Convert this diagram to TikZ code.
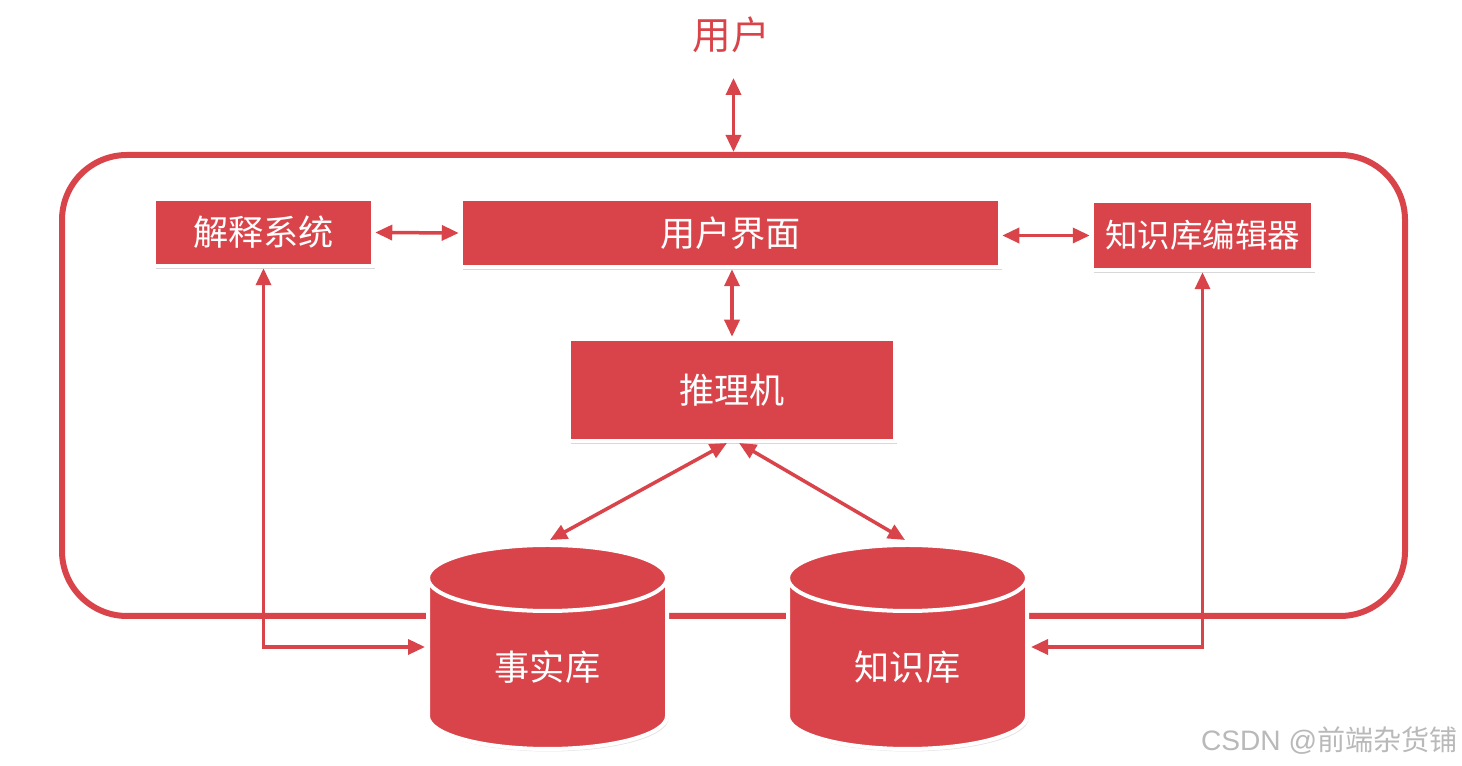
\documentclass[tikz,border=0pt]{standalone}
\usepackage{fontspec}
\setmainfont{Noto Sans CJK SC}
\newfontfamily\wmlat{Liberation Sans}
\usetikzlibrary{arrows.meta,shadows,calc}
\definecolor{rd}{HTML}{D9444A}
\begin{document}
\begin{tikzpicture}[x=0.02cm,y=0.02cm,
  box/.style={fill=rd, draw=white, line width=0.09cm, text=white, inner sep=0pt,
    font=\fontsize{20}{24}\selectfont,
    drop shadow={opacity=0.3,shadow xshift=0.04cm,shadow yshift=-0.06cm}},
  cylbody/.style={fill=rd, draw=white, line width=0.08cm,
    drop shadow={opacity=0.22,shadow xshift=0.03cm,shadow yshift=-0.05cm}},
  lbl/.style={text=white, font=\fontsize{20}{24}\selectfont},
  conn/.style={draw=rd, line width=0.07cm,
    {Triangle[length=0.34cm,width=0.3cm]}-{Triangle[length=0.34cm,width=0.3cm]}},
]
\useasboundingbox (0,0) rectangle (1462,766);
\fill[white] (0,0) rectangle (1462,766);

% system frame
\node[draw=rd, line width=0.12cm, rounded corners=1.3cm,
  minimum width=1343*0.02cm, minimum height=461*0.02cm] (sys) at (733.5,766-385.5) {};

% user
\node[text=rd, font=\fontsize{22}{24}\selectfont] (user) at (731,766-35) {用户};
\coordinate (userArr) at (733.5,766-78);

% boxes
\node[box, minimum width=219*0.02cm, minimum height=67*0.02cm] (jieshi) at (263.5,766-232.5) {解释系统};
\node[box, minimum width=539*0.02cm, minimum height=68*0.02cm] (ui) at (730.5,766-233) {用户界面};
\node[box, minimum width=221*0.02cm, minimum height=69*0.02cm, font=\fontsize{18.5}{22}\selectfont] (editor) at (1202.5,766-235.5) {知识库编辑器};
\node[box, minimum width=326*0.02cm, minimum height=102*0.02cm] (reason) at (732,766-390) {推理机};

% cylinders
\path[cylbody] (428,188) -- (428,50) arc[start angle=180,end angle=360,x radius=119.5,y radius=33]
  -- (667,188) arc[start angle=0,end angle=180,x radius=119.5,y radius=33] -- cycle;
\draw[white, line width=0.08cm] (428,188) arc[start angle=180,end angle=360,x radius=119.5,y radius=33];
\node[lbl] (fact) at (547.5,766-667) {事实库};

\path[cylbody] (788,188) -- (788,50) arc[start angle=180,end angle=360,x radius=119.5,y radius=33]
  -- (1027,188) arc[start angle=0,end angle=180,x radius=119.5,y radius=33] -- cycle;
\draw[white, line width=0.08cm] (788,188) arc[start angle=180,end angle=360,x radius=119.5,y radius=33];
\node[lbl] (know) at (907.5,766-667) {知识库};

\coordinate (factTop) at (550,766-540);
\coordinate (knowTop) at (905,766-540);
\coordinate (factW) at (425,766-647);
\coordinate (knowE) at (1031,766-647);
\coordinate (rsL) at (727,766-443);
\coordinate (rsR) at (739,766-443);

% connectors
\draw[conn] (userArr) -- (sys.north);
\draw[conn] (jieshi.east) -- (ui.west);
\draw[conn] (editor.west -| ui.east) -- (editor.west);
\draw[conn] (reason.north |- ui.south) -- (reason.north);
\draw[conn] (rsL) -- (factTop);
\draw[conn] (rsR) -- (knowTop);
\draw[conn] (jieshi.south) |- (factW);
\draw[conn] (editor.south) |- (knowE);

% watermark
\node[anchor=east, text=gray!55, font=\fontsize{16}{18}\selectfont, inner sep=0pt] (wm) at (1458,766-741) {{\wmlat CSDN @}前端杂货铺};
\end{tikzpicture}
\end{document}
